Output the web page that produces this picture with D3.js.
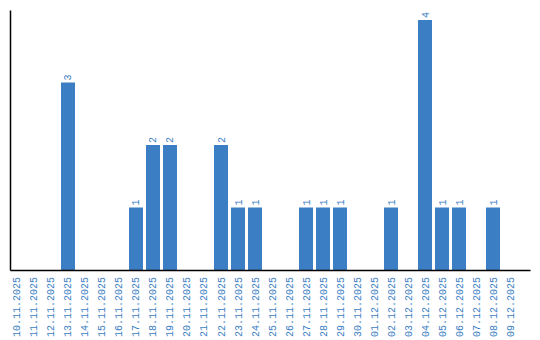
<!DOCTYPE html>
<html>
<head>
<meta charset="utf-8">
<script src="https://cdn.jsdelivr.net/npm/d3@7"></script>
<style>
	body { margin: 0; background: #fff; }
	text { font-family: "Liberation Mono", monospace; }
</style>
</head>
<body>
<div id="chart-area"></div>
<script>
var dates = ["10.11.2025", "11.11.2025", "12.11.2025", "13.11.2025", "14.11.2025",
	"15.11.2025", "16.11.2025", "17.11.2025", "18.11.2025", "19.11.2025",
	"20.11.2025", "21.11.2025", "22.11.2025", "23.11.2025", "24.11.2025",
	"25.11.2025", "26.11.2025", "27.11.2025", "28.11.2025", "29.11.2025",
	"30.11.2025", "01.12.2025", "02.12.2025", "03.12.2025", "04.12.2025",
	"05.12.2025", "06.12.2025", "07.12.2025", "08.12.2025", "09.12.2025"];
var counts = [0, 0, 0, 3, 0, 0, 0, 1, 2, 2, 0, 0, 2, 1, 1, 0, 0, 1, 1, 1, 0, 0, 1, 0, 4, 1, 1, 0, 1, 0];

var blue = "#3b7ec3";
var width = 540, height = 340;

var svg = d3.select("#chart-area")
	.append("svg")
	.attr("width", width)
	.attr("height", height);

var data = dates.map((d, i) => ({ date: d, count: counts[i] }));

var xScale = d3.scaleBand()
	.domain(dates)
	.range([10, 530])
	.paddingInner(0.1765)
	.paddingOuter(0.38235)
	.align(0);

var yScale = d3.scaleLinear()
	.domain([0, 4.16])
	.range([270, 10]);

// bars
svg.selectAll("rect.bar")
	.data(data.filter(d => d.count > 0))
	.enter().append("rect")
	.attr("class", "bar")
	.attr("x", d => xScale(d.date))
	.attr("y", d => yScale(d.count))
	.attr("width", xScale.bandwidth())
	.attr("height", d => yScale(0) - yScale(d.count))
	.attr("fill", blue);

// value labels
svg.selectAll("text.val")
	.data(data.filter(d => d.count > 0))
	.enter().append("text")
	.attr("class", "val")
	.attr("transform", d => "translate(" + (xScale(d.date) + xScale.bandwidth() / 2 + 3.5) + "," + (yScale(d.count) - 2) + ") rotate(-90)")
	.attr("font-size", "10px")
	.attr("fill", blue)
	.text(d => d.count);

// x axis
var xAxisG = svg.append("g")
	.attr("transform", "translate(0,270)")
	.call(d3.axisBottom(xScale).tickSize(0).tickSizeOuter(0));
xAxisG.select(".domain").attr("stroke", "#000").attr("stroke-width", 1.5);
xAxisG.selectAll("text")
	.attr("font-family", "Liberation Mono, monospace")
	.attr("font-size", "10px")
	.attr("fill", blue)
	.attr("text-anchor", "end")
	.attr("dy", "0.35em")
	.attr("transform", "translate(0,7) rotate(-90)")
	.attr("x", 0)
	.attr("y", 0);

// y axis line only
var yAxisG = svg.append("g")
	.attr("transform", "translate(10,0)")
	.call(d3.axisLeft(yScale).tickValues([]).tickSizeOuter(0));
yAxisG.select(".domain").attr("stroke", "#000").attr("stroke-width", 1.5);
</script>
</body>
</html>
